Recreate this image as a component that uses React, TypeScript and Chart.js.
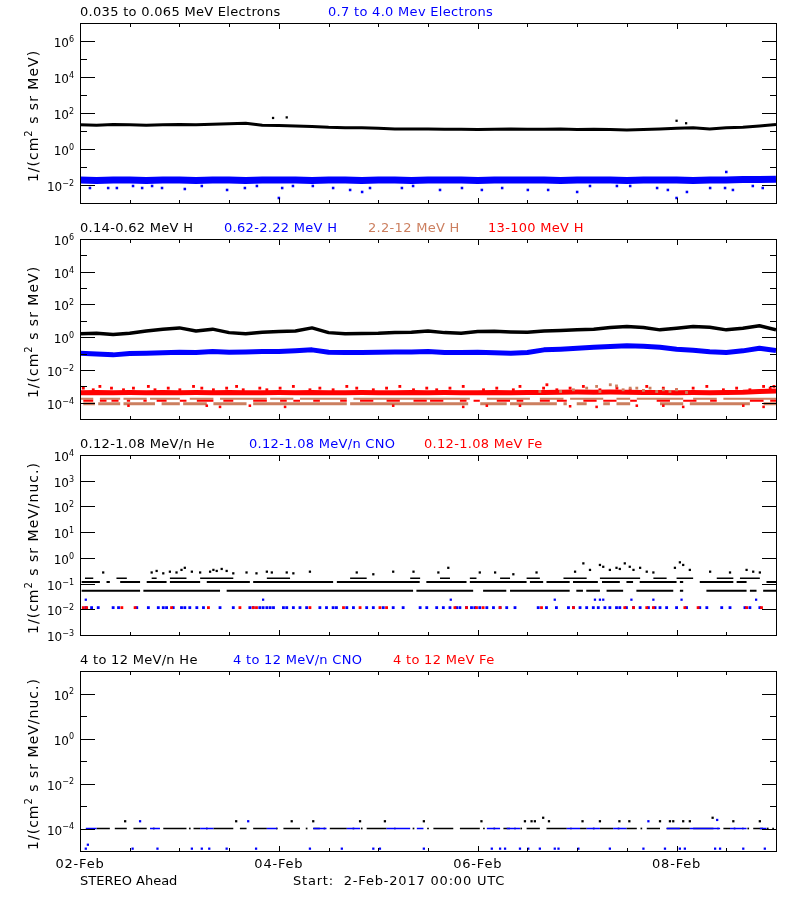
import React, { useEffect, useRef } from 'react';
import { Chart, registerables } from 'chart.js';

Chart.register(...registerables);

const FONT = '"DejaVu Sans", "Liberation Sans", sans-serif';
const BLACK = '#000000';
const BLUE = '#0000ff';
const RED = '#ff0000';
const BROWN = '#cc7f5f';

// ---------- time axis (hours since 2017-02-02 00:00 UTC) ----------
const TIME_MIN = 0;
const TIME_MAX = 168;
const dayTickHours = [0, 48, 96, 144];
const dayTickLabels = ['02-Feb', '04-Feb', '06-Feb', '08-Feb'];
const minorTickHours = [12, 24, 36, 60, 72, 84, 108, 120, 132, 156];

const grid4h = [0, 4, 8, 12, 16, 20, 24, 28, 32, 36, 40, 44, 48, 52, 56, 60, 64, 68, 72, 76, 80, 84, 88, 92, 96, 100, 104, 108, 112, 116, 120, 124, 128, 132, 136, 140, 144, 148, 152, 156, 160, 164, 168];

// ---------- panel 1: electrons ----------
const eLowFlux = [22, 21, 23, 22, 21, 22, 23, 22, 24, 25, 27, 21, 20, 19, 18, 16, 15, 15, 14, 13, 13, 13, 12.5, 12.5, 12, 12.5, 13, 12.5, 12.5, 13, 12, 12.5, 12, 11.5, 12, 13, 14, 15, 13, 15, 16, 19, 23];
const eLowSpikeHours = [46.6, 49.9, 144, 146.3];
const eLowSpikeFlux = [53, 57, 37, 27];
const eHighFlux = [0.019, 0.018, 0.019, 0.019, 0.018, 0.019, 0.019, 0.018, 0.019, 0.019, 0.018, 0.019, 0.019, 0.019, 0.018, 0.019, 0.019, 0.018, 0.019, 0.019, 0.018, 0.019, 0.019, 0.019, 0.018, 0.019, 0.019, 0.019, 0.019, 0.018, 0.019, 0.019, 0.019, 0.018, 0.019, 0.019, 0.019, 0.018, 0.019, 0.019, 0.02, 0.02, 0.021];
const eHighLowHours = [2.4, 6.8, 8.9, 12.8, 15, 17.4, 19.8, 25.3, 29.4, 35.5, 39.8, 42.7, 48.8, 51.4, 56.2, 61.1, 65.2, 68.1, 70, 77.7, 80.4, 86.9, 92.2, 97, 101.9, 108.1, 113, 120, 123.1, 129.6, 132.8, 139.3, 141.9, 146.5, 152.1, 155.7, 157.6, 162.4, 164.8, 48, 144, 156];
const eHighLowFlux = [0.0068, 0.0068, 0.0068, 0.0088, 0.0068, 0.0088, 0.0068, 0.006, 0.0088, 0.0053, 0.0068, 0.0088, 0.0068, 0.0088, 0.0088, 0.0068, 0.0053, 0.0041, 0.0068, 0.0068, 0.0088, 0.0053, 0.0068, 0.0053, 0.0068, 0.0053, 0.0053, 0.0041, 0.0088, 0.0088, 0.0088, 0.0068, 0.0053, 0.0041, 0.0068, 0.0068, 0.0053, 0.0088, 0.0068, 0.0019, 0.0019, 0.053];

// ---------- panel 2: protons ----------
const hLowFlux = [1.6, 1.75, 1.45, 1.75, 2.4, 3.1, 3.7, 2.4, 3.1, 1.9, 1.6, 2.0, 2.2, 2.4, 3.7, 1.9, 1.6, 1.7, 1.75, 1.9, 2.0, 2.4, 1.9, 1.75, 2.2, 2.3, 2.1, 2.0, 2.4, 2.6, 2.8, 3.1, 3.9, 4.5, 3.9, 2.8, 3.5, 4.5, 4.1, 2.8, 3.5, 5.0, 2.8];
const hMidFlux = [0.106, 0.095, 0.083, 0.1, 0.106, 0.113, 0.12, 0.115, 0.133, 0.12, 0.126, 0.133, 0.133, 0.146, 0.168, 0.12, 0.115, 0.115, 0.12, 0.126, 0.126, 0.133, 0.115, 0.115, 0.12, 0.113, 0.106, 0.115, 0.168, 0.185, 0.213, 0.245, 0.27, 0.295, 0.28, 0.245, 0.185, 0.16, 0.13, 0.115, 0.146, 0.213, 0.153];
const hTopBandFlux = [4e-4, 4.2e-4, 4e-4, 4.1e-4, 4e-4, 4.2e-4, 4e-4, 4.1e-4, 4e-4, 4.2e-4, 4e-4, 4e-4, 4.1e-4, 4e-4, 4.2e-4, 4e-4, 4e-4, 4.1e-4, 4e-4, 4e-4, 4.2e-4, 4e-4, 4.1e-4, 4e-4, 4e-4, 4.2e-4, 4e-4, 4.1e-4, 4.2e-4, 4.3e-4, 4.4e-4, 4.3e-4, 4.4e-4, 4.3e-4, 4.2e-4, 4.1e-4, 4e-4, 4.1e-4, 4e-4, 4.2e-4, 4.3e-4, 4.8e-4, 5.2e-4];
const hTopHighHours = [0.8, 3.2, 4.8, 7.6, 10.5, 12.9, 16.5, 18.1, 21.3, 24.1, 27.4, 29.4, 32.2, 35.4, 37.8, 39.4, 43.4, 45.1, 48.3, 51.5, 55.5, 57.9, 61.1, 64.4, 66.8, 70.8, 74, 77.2, 80.5, 83.7, 86.1, 89.3, 92.5, 97.4, 100.6, 104.6, 106.2, 111.9, 112.7, 115.1, 118.3, 121.5, 125.5, 129.6, 132.8, 136.8, 140.8, 144, 148, 151.3, 155.3, 158.5, 161.7, 165, 166.6, 167.5];
const hTopHighFlux = [7.7e-4, 6.1e-4, 9.8e-4, 7.7e-4, 6.1e-4, 7.7e-4, 9.8e-4, 6.1e-4, 7.7e-4, 6.1e-4, 9.8e-4, 7.7e-4, 6.1e-4, 7.7e-4, 9.8e-4, 6.1e-4, 7.7e-4, 6.1e-4, 7.7e-4, 9.8e-4, 6.1e-4, 7.7e-4, 6.1e-4, 9.8e-4, 7.7e-4, 6.1e-4, 7.7e-4, 9.8e-4, 6.1e-4, 7.7e-4, 6.1e-4, 7.7e-4, 9.8e-4, 6.1e-4, 7.7e-4, 6.1e-4, 9.8e-4, 7.7e-4, 1.24e-3, 6.1e-4, 7.7e-4, 9.8e-4, 6.1e-4, 7.7e-4, 6.1e-4, 9.8e-4, 7.7e-4, 6.1e-4, 7.7e-4, 9.8e-4, 6.1e-4, 7.7e-4, 6.1e-4, 9.8e-4, 7.7e-4, 9.8e-4];
const hTopLowHours = [11.7, 30.6, 33.8, 41, 49.5, 75.6, 92.5, 98.2, 106.2, 118.3, 124.7, 134.4, 140.8, 145.6, 160.1, 165];
const hTopLowFlux = [6.5e-5, 6.5e-5, 5.5e-5, 6.5e-5, 5.5e-5, 6.5e-5, 5.5e-5, 6.5e-5, 6.5e-5, 6e-5, 5.5e-5, 6.5e-5, 6.5e-5, 5.5e-5, 6.5e-5, 5.5e-5];
const hTopRowLevel = 1.3e-4;
const hTopRowSegments = [[0.8, 3.2], [4.8, 6.4], [7.6, 9.3], [11.3, 12.1], [15.3, 16.1], [18.5, 20.9], [24.1, 25.7], [28.2, 32.2], [34.6, 37], [41.8, 45.1], [48.3, 49.9], [51.5, 53.1], [56.3, 57.9], [62.8, 64.4], [67.6, 70.8], [74, 77.2], [80.5, 83.7], [84.5, 87.7], [91.7, 93.3], [95, 96.5], [100.6, 103.8], [105.4, 107], [111, 113.4], [115.1, 117.5], [121.5, 124.7], [126.3, 129.5], [132.8, 134.4], [139.2, 142.4], [145.6, 148.8], [152.1, 153.7], [161.7, 165], [166.6, 168]];
const hHighMidLevel = 1.75e-4;
const hHighMidSegments = [[0, 3.2], [4.8, 9.7], [10.5, 16.1], [16.9, 24.1], [26.5, 32.2], [33.8, 45.1], [45.9, 51.5], [53.1, 64.4], [66, 94.1], [98.2, 108.6], [111, 116.7], [118.3, 126.3], [129.5, 132.8], [134.4, 145.6], [148, 153.7], [155.3, 168]];
const hHighLowLevel = 8.7e-5;
const hHighLowSegments = [[0.8, 3.6], [4.4, 9.7], [10.5, 18.1], [19.7, 24.1], [24.9, 30.6], [32.2, 40.2], [41.8, 64.4], [65.2, 93.7], [96.6, 103], [103.8, 115.1], [116.7, 117.5], [119.9, 122.3], [126.3, 127.9], [129.5, 132.8], [140, 145.6], [147.2, 161.7], [165, 168]];
const hHighBumpHours = [111, 116, 119.1, 122.3, 124.7, 125.5, 128, 129.5, 131.1, 132.8, 134.4, 136, 137.6, 139.2, 140.8, 142.4, 144, 146.4];
const hHighBumpFlux = [4.8e-4, 4.8e-4, 6.1e-4, 7.7e-4, 9.8e-4, 4.8e-4, 1.24e-3, 1.05e-3, 6.1e-4, 7.7e-4, 7.7e-4, 5.6e-4, 7.7e-4, 4.8e-4, 6.1e-4, 4.8e-4, 6.1e-4, 4.2e-4];

// ---------- panel 3: 0.12-1.08 MeV/n ions ----------
const heLowLevel = 0.053;
const heLowSegments = [[0.4, 14.5], [15.3, 33.8], [35.4, 80.4], [81.2, 94.9], [97.3, 102.9], [103.8, 118.2], [119.8, 121.4], [122.2, 125.5], [127.1, 131.1], [134.3, 143.2], [144.8, 145.6], [151.2, 160.9], [161.7, 163.3], [164.9, 168]];
const heMidLevel = 0.115;
const heMidSegments = [[0.4, 4.8], [6.4, 7.2], [9.7, 14.5], [16.1, 20.9], [21.7, 29], [30.6, 41], [41.8, 61.1], [62, 82], [83.6, 93.3], [94.1, 107.8], [108.6, 111.8], [112.6, 118.2], [119, 125], [126, 130.3], [131.9, 133.5], [135.1, 144], [144.8, 145.6], [149.6, 157.7], [158.5, 160.9], [165.7, 168]];
const heUpLevel = 0.16;
const heUpSegments = [[1.2, 3.2], [8.8, 11.3], [17.3, 18.5], [21.7, 25.7], [29, 37], [45.1, 50.7], [65.2, 69.2], [79.7, 82.1], [86.9, 89.3], [94.1, 95.7], [101.4, 103.8], [107.8, 111], [116.7, 122.3], [125.5, 135.2], [138.4, 141.6], [144, 148], [153.7, 157.7], [159.3, 164.1]];
const heHighHours = [5.6, 17.3, 18.5, 20.1, 21.7, 23.3, 24.5, 25.3, 27, 29, 31.4, 32.2, 33, 34.2, 35.4, 37, 40.2, 42.6, 45.1, 46.3, 49.9, 51.5, 55.5, 66.8, 70.8, 75.6, 80.5, 86.5, 88.9, 96.5, 100.2, 104.6, 110.2, 119.5, 121.5, 123.1, 125.5, 126.3, 127.9, 129.5, 130.3, 131.5, 132.7, 133.6, 135.2, 136.8, 138.4, 143.6, 144.8, 145.6, 147.2, 152.1, 156.9, 160.9, 162.5, 164.1];
const heHighFlux = [0.27, 0.27, 0.31, 0.25, 0.29, 0.27, 0.34, 0.41, 0.29, 0.27, 0.29, 0.34, 0.31, 0.37, 0.31, 0.25, 0.27, 0.25, 0.29, 0.27, 0.27, 0.25, 0.29, 0.27, 0.23, 0.29, 0.29, 0.27, 0.41, 0.27, 0.27, 0.23, 0.27, 0.29, 0.61, 0.34, 0.53, 0.45, 0.34, 0.41, 0.37, 0.61, 0.45, 0.34, 0.41, 0.29, 0.27, 0.41, 0.67, 0.53, 0.34, 0.29, 0.27, 0.34, 0.29, 0.27];
const cnoLowLevel = 0.0116;
const cnoLowHours = [1.4, 2.8, 4.4, 8, 9.3, 13.7, 16.5, 18.9, 20.1, 20.9, 22.5, 24.5, 25.3, 26.5, 28.2, 29.8, 33.8, 37, 41, 41.8, 43.4, 44.2, 45.1, 45.9, 46.7, 49.1, 49.9, 51.5, 53.1, 54.7, 57.9, 59.5, 61.1, 61.9, 64.4, 66, 69.2, 70.8, 73.2, 75.6, 78, 82.1, 83.7, 86.1, 87.7, 89.3, 90.9, 91.7, 93.3, 94.5, 95.3, 96.5, 98.2, 99.8, 101.4, 103, 105, 110.6, 112.6, 115, 117.9, 119.1, 120.7, 122.3, 123.9, 125.1, 126.7, 127.9, 129.5, 130.3, 131.9, 133.6, 135.2, 137.2, 138.8, 140, 141.6, 144, 146.4, 149.6, 151.3, 154.9, 156.9, 160.5, 161.7, 164.1];
const cnoMidLevel = 0.0236;
const cnoMidHours = [1.4, 44.2, 89.5, 114.6, 124.3, 125.5, 126.3, 133.1, 138.4, 145.2, 163.2];
const feLowLevel = 0.0116;
const feLowHours = [0.8, 1.6, 10.1, 13.3, 22.1, 31, 38.6, 41.8, 42.6, 55.5, 63.6, 67.6, 72.4, 74, 90.5, 93.3, 95.7, 97.3, 101.4, 111.4, 119.1, 131.5, 133.6, 136.8, 138.4, 146, 149.2, 160.9, 164.5];

// ---------- panel 4: 4-12 MeV/n ions ----------
const he4Level = 1e-4;
const he4Segments = [[4, 7.2], [8.4, 11.3], [12.9, 16.1], [20.1, 25.7], [27.4, 29], [32.2, 37], [38.6, 40.2], [41.8, 45.1], [49.1, 53.1], [56.3, 57.9], [60.3, 64.4], [69.2, 74], [85.3, 90.1], [91.7, 96.5], [102.2, 103.8], [107.8, 111], [112.6, 117.5], [120.7, 122.3], [125.5, 128.7], [131.9, 134.4], [136.8, 140], [141.6, 147.2], [148, 152.9], [155.3, 156.9], [162.5, 164.9]];
const he4DotHours = [17.8, 26.5, 30.6, 47.5, 54.7, 59, 66, 68, 76, 80.5, 84, 97.5, 100, 105, 106.5, 118.5, 124, 130, 135.5, 154, 158, 160, 161.3, 166, 167.3];
const he4HighHours = [10.9, 37.7, 51.1, 56.3, 67.6, 73.6, 83, 96.9, 107.4, 109, 109.8, 111.8, 113.2, 121.3, 125.5, 130.2, 132.6, 140, 142.4, 143.2, 145.6, 147.2, 152.7, 157.7, 164.1];
const he4HighFlux = [2.1e-4, 2.1e-4, 2.1e-4, 2.1e-4, 2.1e-4, 2.1e-4, 2.1e-4, 2.1e-4, 2.1e-4, 2.1e-4, 2.1e-4, 3e-4, 2.1e-4, 2.1e-4, 2.1e-4, 2.1e-4, 2.1e-4, 2.1e-4, 2.1e-4, 2.1e-4, 2.1e-4, 2.1e-4, 3e-4, 2.1e-4, 2.1e-4];
const cno4Level = 1e-4;
const cno4Segments = [[1.4, 4], [16.9, 19.3], [29, 32.2], [45.1, 47.5], [56.3, 59.5], [64.4, 67.6], [74, 79.7], [81.3, 82.9], [98.2, 101.4], [103, 106.2], [117.5, 120.7], [122.3, 125.5], [128.7, 131.9], [141.6, 144.8], [147.2, 154.5], [156.9, 160.9], [164.1, 165.7]];
const cno4HighHours = [14.5, 40.6, 137.2, 153.8];
const cno4HighFlux = [2.1e-4, 2.1e-4, 2.1e-4, 2.4e-4];
const cno4LowHours = [1.4, 1.9, 12.7, 18.7, 27, 29.4, 31.2, 35.4, 42.5, 55.5, 63.2, 70.8, 72.4, 83, 99.4, 101.4, 102.6, 106.2, 108.2, 111, 114.6, 115.5, 120.3, 127.9, 136, 141.2, 144.8, 146, 153.3, 154.5, 160.1, 165.3];
const cno4LowFlux = [1.27e-5, 1.9e-5, 1.27e-5, 1.27e-5, 1.27e-5, 1.27e-5, 1.27e-5, 1.27e-5, 1.27e-5, 1.27e-5, 1.27e-5, 1.27e-5, 1.27e-5, 1.27e-5, 1.27e-5, 1.27e-5, 1.27e-5, 1.27e-5, 1.27e-5, 1.27e-5, 1.27e-5, 1.27e-5, 1.27e-5, 1.27e-5, 1.27e-5, 1.27e-5, 1.27e-5, 1.27e-5, 1.27e-5, 1.27e-5, 1.27e-5, 1.27e-5];

// ---------- text ----------
const unitsMeV = [{ t: '1/(cm' }, { t: '2', sup: true }, { t: ' s sr MeV)' }];
const unitsNuc = [{ t: '1/(cm' }, { t: '2', sup: true }, { t: ' s sr MeV/nuc.)' }];
const legend1 = [{ text: '0.035 to 0.065 MeV Electrons', color: BLACK, x: 80 }, { text: '0.7 to 4.0 Mev Electrons', color: BLUE, x: 328 }];
const legend2 = [{ text: '0.14-0.62 MeV H', color: BLACK, x: 80 }, { text: '0.62-2.22 MeV H', color: BLUE, x: 224 }, { text: '2.2-12 MeV H', color: BROWN, x: 368 }, { text: '13-100 MeV H', color: RED, x: 488 }];
const legend3 = [{ text: '0.12-1.08 MeV/n He', color: BLACK, x: 80 }, { text: '0.12-1.08 MeV/n CNO', color: BLUE, x: 249 }, { text: '0.12-1.08 MeV Fe', color: RED, x: 424 }];
const legend4 = [{ text: '4 to 12 MeV/n He', color: BLACK, x: 80 }, { text: '4 to 12 MeV/n CNO', color: BLUE, x: 233 }, { text: '4 to 12 MeV Fe', color: RED, x: 393 }];
const footerLeft = 'STEREO Ahead';
const footerRight = 'Start:  2-Feb-2017 00:00 UTC';

// ---------- helpers ----------
const pts = (hs: number[], vs: number[]) => hs.map((h, i) => ({ x: h, y: vs[i] }));
const level = (hs: number[], v: number) => hs.map((h) => ({ x: h, y: v }));
const segs = (list: number[][], v: number) => list.flatMap(([s, e]) => [{ x: s, y: v }, { x: e, y: v }, { x: e, y: null }]);

const lineDs = (data: any[], color: string, width: number) => ({
  data, showLine: true, borderColor: color, backgroundColor: color, borderWidth: width,
  pointRadius: 0, pointHoverRadius: 0, tension: 0, spanGaps: false, fill: false,
  borderCapStyle: 'butt', borderJoinStyle: 'round',
});
const dotDs = (data: any[], color: string, r = 2) => ({
  data, showLine: false, pointStyle: 'rect', pointRadius: r, pointHoverRadius: r,
  pointBackgroundColor: color, pointBorderColor: color, pointBorderWidth: 0,
  borderColor: color, backgroundColor: color,
});

const range = (a: number, b: number) => { const r: number[] = []; for (let i = a; i <= b; i++) r.push(i); return r; };

const PANELS = [
  {
    top: 0, height: 216, yMin: 1e-3, yMax: 1e7, tickExps: range(-3, 7), labelExps: [-2, 0, 2, 4, 6],
    units: unitsMeV, legend: legend1, footer: false,
    datasets: () => [
      lineDs(pts(grid4h, eLowFlux), BLACK, 3),
      dotDs(pts(eLowSpikeHours, eLowSpikeFlux), BLACK, 1.6),
      dotDs(pts(eHighLowHours, eHighLowFlux), BLUE, 1.8),
      lineDs(pts(grid4h, eHighFlux), BLUE, 7),
    ],
  },
  {
    top: 216, height: 216, yMin: 1e-5, yMax: 1e6, tickExps: range(-5, 6), labelExps: [-4, -2, 0, 2, 4, 6],
    units: unitsMeV, legend: legend2, footer: false,
    datasets: () => [
      lineDs(pts(grid4h, hLowFlux), BLACK, 3.5),
      lineDs(pts(grid4h, hMidFlux), BLUE, 5),
      dotDs(pts(hHighBumpHours, hHighBumpFlux), BROWN, 2),
      dotDs(pts(hTopHighHours, hTopHighFlux), RED, 2),
      lineDs(pts(grid4h, hTopBandFlux), RED, 5),
      dotDs(pts(hTopLowHours, hTopLowFlux), RED, 1.8),
      lineDs(segs(hTopRowSegments, hTopRowLevel), RED, 2),
      lineDs(segs(hHighMidSegments, hHighMidLevel), BROWN, 2),
      lineDs(segs(hHighLowSegments, hHighLowLevel), BROWN, 3),
    ],
  },
  {
    top: 432, height: 216, yMin: 1e-3, yMax: 1e4, tickExps: range(-3, 4), labelExps: range(-3, 4),
    units: unitsNuc, legend: legend3, footer: false,
    datasets: () => [
      dotDs(level(feLowHours, feLowLevel), RED, 2),
      dotDs(level(cnoLowHours, cnoLowLevel), BLUE, 2),
      dotDs(level(cnoMidHours, cnoMidLevel), BLUE, 1.6),
      dotDs(pts(heHighHours, heHighFlux), BLACK, 1.6),
      lineDs(segs(heUpSegments, heUpLevel), BLACK, 1.5),
      lineDs(segs(heMidSegments, heMidLevel), BLACK, 2),
      lineDs(segs(heLowSegments, heLowLevel), BLACK, 2),
    ],
  },
  {
    top: 648, height: 252, yMin: 1e-5, yMax: 1e3, tickExps: range(-5, 3), labelExps: [-4, -2, 0, 2],
    units: unitsNuc, legend: legend4, footer: true,
    datasets: () => [
      dotDs(pts(cno4HighHours, cno4HighFlux), BLUE, 1.6),
      dotDs(pts(he4HighHours, he4HighFlux), BLACK, 1.6),
      dotDs(pts(cno4LowHours, cno4LowFlux), BLUE, 1.6),
      lineDs(segs(cno4Segments, cno4Level), BLUE, 1.5),
      dotDs(level(he4DotHours, he4Level), BLACK, 1.2),
      lineDs(segs(he4Segments, he4Level), BLACK, 1.5),
    ],
  },
];

type Part = { t: string; sup?: boolean };

function drawRich(ctx: CanvasRenderingContext2D, parts: Part[], x: number, y: number, size: number, align: 'left' | 'right' | 'center', spacing = 0) {
  const supSize = Math.round(size * 0.68);
  (ctx as any).letterSpacing = spacing + 'px';
  const widths = parts.map((p) => {
    ctx.font = `${p.sup ? supSize : size}px ${FONT}`;
    return ctx.measureText(p.t).width;
  });
  const total = widths.reduce((a, b) => a + b, 0);
  let cx = align === 'left' ? x : align === 'right' ? x - total : x - total / 2;
  ctx.textAlign = 'left';
  ctx.textBaseline = 'alphabetic';
  parts.forEach((p, i) => {
    ctx.font = `${p.sup ? supSize : size}px ${FONT}`;
    ctx.fillText(p.t, cx, p.sup ? y - size * 0.42 : y);
    cx += widths[i];
  });
  (ctx as any).letterSpacing = '0px';
}

const expText = (e: number) => (e < 0 ? '\u2212' + Math.abs(e) : String(e));

function makeIdlPlugin(p: any) {
  return {
    id: 'idlFrame',
    afterDraw(chart: any) {
      const ctx: CanvasRenderingContext2D = chart.ctx;
      const a = chart.chartArea;
      const xs = chart.scales.x;
      const ys = chart.scales.y;
      ctx.save();
      ctx.strokeStyle = BLACK;
      ctx.fillStyle = BLACK;
      ctx.lineWidth = 1;
      ctx.strokeRect(a.left + 0.5, a.top + 0.5, a.right - a.left, a.bottom - a.top);

      // y ticks
      ctx.beginPath();
      p.tickExps.forEach((e: number) => {
        const py = Math.round(ys.getPixelForValue(Math.pow(10, e))) + 0.5;
        const major = p.labelExps.includes(e);
        const len = major ? 15 : 7;
        ctx.moveTo(a.left, py); ctx.lineTo(a.left + len, py);
        ctx.moveTo(a.right + 1, py); ctx.lineTo(a.right + 1 - len, py);
      });
      // x ticks
      const xt = [...dayTickHours.map((h) => ({ h, major: true })), ...minorTickHours.map((h) => ({ h, major: false }))];
      xt.forEach(({ h, major }) => {
        const px = Math.round(xs.getPixelForValue(h)) + 0.5;
        const len = major ? 6 : 4;
        ctx.moveTo(px, a.top); ctx.lineTo(px, a.top + len);
        ctx.moveTo(px, a.bottom + 1); ctx.lineTo(px, a.bottom + 1 - len);
      });
      ctx.stroke();

      // y tick labels
      ctx.fillStyle = BLACK;
      p.labelExps.forEach((e: number) => {
        const py = ys.getPixelForValue(Math.pow(10, e));
        drawRich(ctx, [{ t: '10' }, { t: expText(e), sup: true }], a.left - 6, py + 6, 12, 'right');
      });

      // axis title
      ctx.save();
      ctx.translate(38, (a.top + a.bottom) / 2 + 3);
      ctx.rotate(-Math.PI / 2);
      drawRich(ctx, p.units, 0, 0, 14, 'center', 1);
      ctx.restore();

      // legend line
      ctx.textBaseline = 'middle';
      ctx.textAlign = 'left';
      ctx.font = `13px ${FONT}`;
      (ctx as any).letterSpacing = '0.3px';
      p.legend.forEach((l: any) => {
        ctx.fillStyle = l.color;
        ctx.fillText(l.text, l.x, a.top - 10);
      });
      (ctx as any).letterSpacing = '0px';

      if (p.footer) {
        ctx.fillStyle = BLACK;
        ctx.font = `13px ${FONT}`;
        ctx.textBaseline = 'middle';
        ctx.textAlign = 'center';
        (ctx as any).letterSpacing = '0.8px';
        dayTickHours.forEach((h, i) => {
          ctx.fillText(dayTickLabels[i], xs.getPixelForValue(h), a.bottom + 14);
        });
        ctx.textAlign = 'left';
        (ctx as any).letterSpacing = '0px';
        ctx.fillText(footerLeft, a.left, a.bottom + 31);
        (ctx as any).letterSpacing = '0.8px';
        ctx.fillText(footerRight, 293, a.bottom + 31);
        (ctx as any).letterSpacing = '0px';
      }
      ctx.restore();
    },
  };
}

function buildConfig(p: any): any {
  return {
    type: 'line',
    data: { datasets: p.datasets() },
    options: {
      animation: false,
      responsive: false,
      maintainAspectRatio: false,
      devicePixelRatio: 1,
      events: [],
      layout: { padding: { left: 80, right: 24, top: 23, bottom: p.height - 203 } },
      plugins: { legend: { display: false }, tooltip: { enabled: false }, title: { display: false } },
      scales: {
        x: { type: 'linear', min: TIME_MIN, max: TIME_MAX, display: false },
        y: { type: 'logarithmic', min: p.yMin, max: p.yMax, display: false },
      },
    },
    plugins: [makeIdlPlugin(p)],
  };
}

export default function App() {
  const r0 = useRef<HTMLCanvasElement>(null);
  const r1 = useRef<HTMLCanvasElement>(null);
  const r2 = useRef<HTMLCanvasElement>(null);
  const r3 = useRef<HTMLCanvasElement>(null);
  const refs = [r0, r1, r2, r3];

  useEffect(() => {
    document.body.style.margin = '0';
    const charts = PANELS.map((p, i) => new Chart(refs[i].current as HTMLCanvasElement, buildConfig(p)));
    return () => charts.forEach((c) => c.destroy());
  }, []);

  return (
    <div style={{ position: 'relative', width: 800, height: 900, background: '#ffffff' }}>
      {PANELS.map((p, i) => (
        <canvas
          key={i}
          ref={refs[i]}
          width={800}
          height={p.height}
          style={{ position: 'absolute', left: 0, top: p.top, display: 'block', width: 800, height: p.height }}
        />
      ))}
    </div>
  );
}
